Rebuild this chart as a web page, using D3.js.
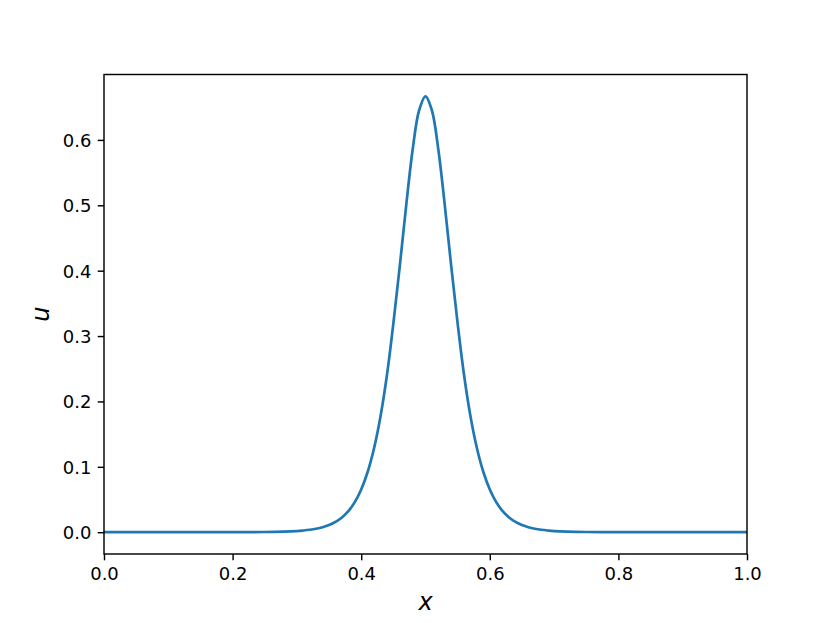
<!DOCTYPE html>
<html>
<head>
<meta charset="utf-8">
<script src="https://cdn.jsdelivr.net/npm/d3@7"></script>
<style>
  html, body { margin: 0; padding: 0; background: #ffffff; }
  svg { display: block; }
  text { font-family: "DejaVu Sans", sans-serif; fill: #000; }
</style>
</head>
<body>
<svg id="chart" width="830" height="623"></svg>
<script>
// ---- data ----
const xValues = [0.00, 0.10, 0.20, 0.25, 0.30, 0.31, 0.32, 0.33, 0.34, 0.35, 0.36, 0.37, 0.38, 0.39,
                 0.40, 0.41, 0.42, 0.43, 0.44, 0.45, 0.46, 0.47, 0.48, 0.49, 0.50,
                 0.51, 0.52, 0.53, 0.54, 0.55, 0.56, 0.57, 0.58, 0.59, 0.60,
                 0.61, 0.62, 0.63, 0.64, 0.65, 0.66, 0.67, 0.68, 0.69, 0.70, 0.75, 0.80, 0.90, 1.00];
const uValues = [0.0000, 0.0000, 0.0000, 0.0003, 0.0018, 0.0026, 0.0037, 0.0053, 0.0076, 0.0109, 0.0157, 0.0225, 0.0322, 0.0460,
                 0.0654, 0.0921, 0.1285, 0.1770, 0.2400, 0.3190, 0.4070, 0.5000, 0.5850, 0.6450, 0.6667,
                 0.6450, 0.5850, 0.5000, 0.4070, 0.3190, 0.2400, 0.1770, 0.1285, 0.0921, 0.0654,
                 0.0460, 0.0322, 0.0225, 0.0157, 0.0109, 0.0076, 0.0053, 0.0037, 0.0026, 0.0018, 0.0003, 0.0000, 0.0000, 0.0000];
const xTicks = [0.0, 0.2, 0.4, 0.6, 0.8, 1.0];
const yTicks = [0.0, 0.1, 0.2, 0.3, 0.4, 0.5, 0.6];
const xLabel = "x";
const yLabel = "u";

// ---- layout ----
const svg = d3.select("#chart");
const mLeft = 104, mRight = 747, mTop = 74.5, mBottom = 554;
const lineColor = "#1f77b4";

const uMax = d3.max(uValues), uMin = d3.min(uValues);
const pad = (uMax - uMin) * 0.05;
const x = d3.scaleLinear().domain([0, 1]).range([mLeft, mRight]);
const y = d3.scaleLinear().domain([uMin - pad, uMax + pad]).range([mBottom, mTop]);

const data = xValues.map((v, i) => ({x: v, u: uValues[i]}));

// line
const line = d3.line()
  .x(d => x(d.x))
  .y(d => y(d.u))
  .curve(d3.curveCatmullRom.alpha(0.5));

svg.append("path")
  .datum(data)
  .attr("d", line)
  .attr("fill", "none")
  .attr("stroke", lineColor)
  .attr("stroke-width", 2.7)
  .attr("stroke-linejoin", "round")
  .attr("stroke-linecap", "butt");

// axes
const xAxis = d3.axisBottom(x).tickValues(xTicks).tickFormat(d3.format(".1f"))
  .tickSize(6.3).tickPadding(6.3);
const yAxis = d3.axisLeft(y).tickValues(yTicks).tickFormat(d3.format(".1f"))
  .tickSize(6.3).tickPadding(6.3);

const gx = svg.append("g").attr("transform", `translate(0,${mBottom})`).call(xAxis);
const gy = svg.append("g").attr("transform", `translate(${mLeft},0)`).call(yAxis);

[gx, gy].forEach(g => {
  g.select(".domain").remove();
  g.selectAll(".tick line").attr("stroke", "#000").attr("stroke-width", 1.44);
  g.selectAll(".tick text").attr("font-size", 18).attr("font-family", "DejaVu Sans, sans-serif").attr("fill", "#000");
});
gx.selectAll(".tick text").attr("dy", null).attr("y", 26);
gy.selectAll(".tick text").attr("dy", "0.36em");

// spines
svg.append("rect")
  .attr("x", mLeft).attr("y", mTop)
  .attr("width", mRight - mLeft).attr("height", mBottom - mTop)
  .attr("fill", "none")
  .attr("stroke", "#000")
  .attr("stroke-width", 1.44);

// axis labels
svg.append("text")
  .attr("x", (mLeft + mRight) / 2)
  .attr("y", 610)
  .attr("text-anchor", "middle")
  .attr("font-size", 24)
  .attr("font-style", "italic")
  .text(xLabel);

svg.append("text")
  .attr("transform", `translate(49,${(mTop + mBottom) / 2}) rotate(-90)`)
  .attr("text-anchor", "middle")
  .attr("font-size", 24)
  .attr("font-style", "italic")
  .text(yLabel);
</script>
</body>
</html>
